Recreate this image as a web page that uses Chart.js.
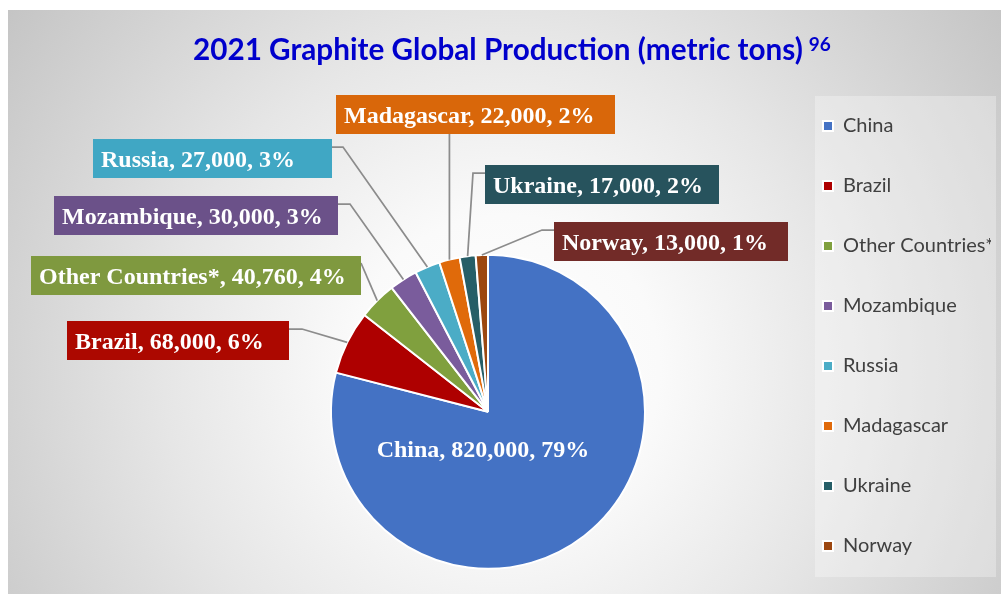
<!DOCTYPE html>
<html>
<head>
<meta charset="utf-8">
<title>2021 Graphite Global Production</title>
<script src="https://cdn.jsdelivr.net/npm/chart.js@4.4.1/dist/chart.umd.min.js"></script>
<style>
  html, body { margin: 0; padding: 0; background: #ffffff; width: 1001px; height: 594px; overflow: hidden; }
  #wrap { position: absolute; left: 0; top: 0; width: 1001px; height: 600px; }
</style>
</head>
<body>
<div id="wrap"><canvas id="chart"></canvas></div>
<script>
// ---- data ----
const countries = ['China', 'Brazil', 'Other Countries*', 'Mozambique', 'Russia', 'Madagascar', 'Ukraine', 'Norway'];
const production = [820000, 68000, 40760, 30000, 27000, 22000, 17000, 13000];
const sharePct = [79, 6, 4, 3, 3, 2, 2, 1];
const titleText = '2021 Graphite Global Production (metric tons)';
const titleNote = '96';

// ---- colours ----
const sliceColors = ['#4472C4', '#AE0000', '#80A03E', '#7A5C9C', '#4BACC6', '#E06A0A', '#265E67', '#9C4710'];
const calloutFills = ['transparent', '#AC0800', '#7F993F', '#6B5189', '#40A7C4', '#D9670A', '#27535D', '#722B28'];

// ---- callout placement (box top-left and width; leader side and elbow) ----
const calloutLayout = [
  { inside: true, dx: -5, baseline: 45 },
  { left: 67,  top: 321, width: 222, side: 'right', elbow: 13 },
  { left: 31,  top: 256, width: 330, side: 'right', elbow: 0, anchorDy: 7 },
  { left: 54,  top: 196, width: 284, side: 'right', elbow: 12 },
  { left: 93,  top: 139, width: 239, side: 'right', elbow: 11 },
  { left: 336, top: 95,  width: 279, side: 'bottom' },
  { left: 485, top: 165, width: 234, side: 'left', elbow: 12 },
  { left: 554, top: 222, width: 234, side: 'left', elbow: 12 }
];
const BOX_H = 39;
const TITLE_FONT = { family: 'Lato, "Open Sans", sans-serif', size: 29.7, weight: 'bold', lineHeight: 1.2 };
const LEGEND_PAD = 40;

// backdrop: radial grey fade and the translucent legend panel
const backdrop = {
  id: 'backdrop',
  beforeDraw(chart) {
    const { ctx, width, height } = chart;
    ctx.save();
    const g = ctx.createRadialGradient(505, 370, 0, 505, 370, 620);
    g.addColorStop(0, '#ffffff');
    g.addColorStop(0.25, '#fafafa');
    g.addColorStop(0.55, '#e6e6e6');
    g.addColorStop(0.8, '#d3d3d3');
    g.addColorStop(1, '#c4c4c4');
    ctx.fillStyle = g;
    ctx.fillRect(8, 10, width - 8, height - 10);
    const lg = chart.legend;
    if (lg) {
      const x0 = lg.left + LEGEND_PAD - 8;
      const y0 = lg.bottom - 8 * (20 + LEGEND_PAD) - 20;
      ctx.fillStyle = 'rgba(255,255,255,0.3)';
      ctx.fillRect(x0, y0, width - 5 - x0, lg.bottom - 19 - y0);
    }
    ctx.restore();
  }
};

// superscript reference note after the title
const titleNotePlugin = {
  id: 'titleNote',
  afterDraw(chart) {
    const tb = chart.titleBlock;
    if (!tb) return;
    const ctx = chart.ctx;
    ctx.save();
    ctx.font = `bold ${TITLE_FONT.size}px ${TITLE_FONT.family}`;
    const w = ctx.measureText(titleText).width;
    ctx.font = `bold 19px ${TITLE_FONT.family}`;
    ctx.fillStyle = '#0000CC';
    ctx.textBaseline = 'alphabetic';
    ctx.textAlign = 'left';
    ctx.fillText(titleNote, tb.left + w + 6, 51);
    ctx.restore();
  }
};

// data callouts with leader lines
const callouts = {
  id: 'callouts',
  afterDatasetsDraw(chart) {
    const ctx = chart.ctx;
    const meta = chart.getDatasetMeta(0);
    ctx.save();
    ctx.font = 'bold 24px "Liberation Serif", "Times New Roman", serif';
    ctx.textBaseline = 'alphabetic';
    meta.data.forEach((arc, i) => {
      const p = arc.getProps(['x', 'y', 'startAngle', 'endAngle', 'outerRadius'], true);
      const mid = (p.startAngle + p.endAngle) / 2;
      const ex = p.x + Math.cos(mid) * p.outerRadius;
      const ey = p.y + Math.sin(mid) * p.outerRadius;
      const text = `${countries[i]}, ${production[i].toLocaleString('en-US')}, ${sharePct[i]}%`;
      const L = calloutLayout[i];
      if (L.inside) {
        ctx.fillStyle = '#ffffff';
        ctx.textAlign = 'center';
        ctx.fillText(text, p.x + L.dx, p.y + L.baseline);
        return;
      }
      ctx.strokeStyle = '#8c8c8c';
      ctx.lineWidth = 1.75;
      ctx.beginPath();
      ctx.moveTo(ex, ey);
      if (L.side === 'bottom') {
        ctx.lineTo(ex, L.top + BOX_H);
      } else {
        const ax = L.side === 'right' ? L.left + L.width : L.left;
        const ay = L.top + (L.anchorDy || 8);
        const bx = L.side === 'right' ? ax + L.elbow : ax - L.elbow;
        ctx.lineTo(bx, ay);
        ctx.lineTo(ax, ay);
      }
      ctx.stroke();
      ctx.fillStyle = calloutFills[i];
      ctx.fillRect(L.left, L.top, L.width, BOX_H);
      ctx.fillStyle = '#ffffff';
      ctx.textAlign = 'left';
      ctx.fillText(text, L.left + 8, L.top + 28);
    });
    ctx.restore();
  }
};

new Chart(document.getElementById('chart'), {
  type: 'pie',
  data: {
    labels: countries,
    datasets: [{
      data: production,
      backgroundColor: sliceColors,
      borderColor: '#ffffff',
      borderWidth: 2,
      hoverBorderWidth: 2,
      hoverOffset: 0,
      radius: 157
    }]
  },
  options: {
    responsive: true,
    maintainAspectRatio: false,
    animation: false,
    events: [],
    layout: { padding: { top: 10, bottom: 4, left: 193, right: 10 } },
    plugins: {
      title: {
        display: true,
        text: titleText,
        fullSize: true,
        align: 'start',
        color: '#0000CC',
        font: TITLE_FONT,
        padding: { top: 23, bottom: 159 }
      },
      legend: {
        position: 'right',
        align: 'end',
        maxWidth: 208,
        labels: {
          boxWidth: 10,
          boxHeight: 10,
          padding: LEGEND_PAD,
          color: '#404040',
          font: { family: 'Lato, "Open Sans", sans-serif', size: 20 }
        }
      },
      tooltip: { enabled: false }
    }
  },
  plugins: [backdrop, callouts, titleNotePlugin]
});
</script>
</body>
</html>
